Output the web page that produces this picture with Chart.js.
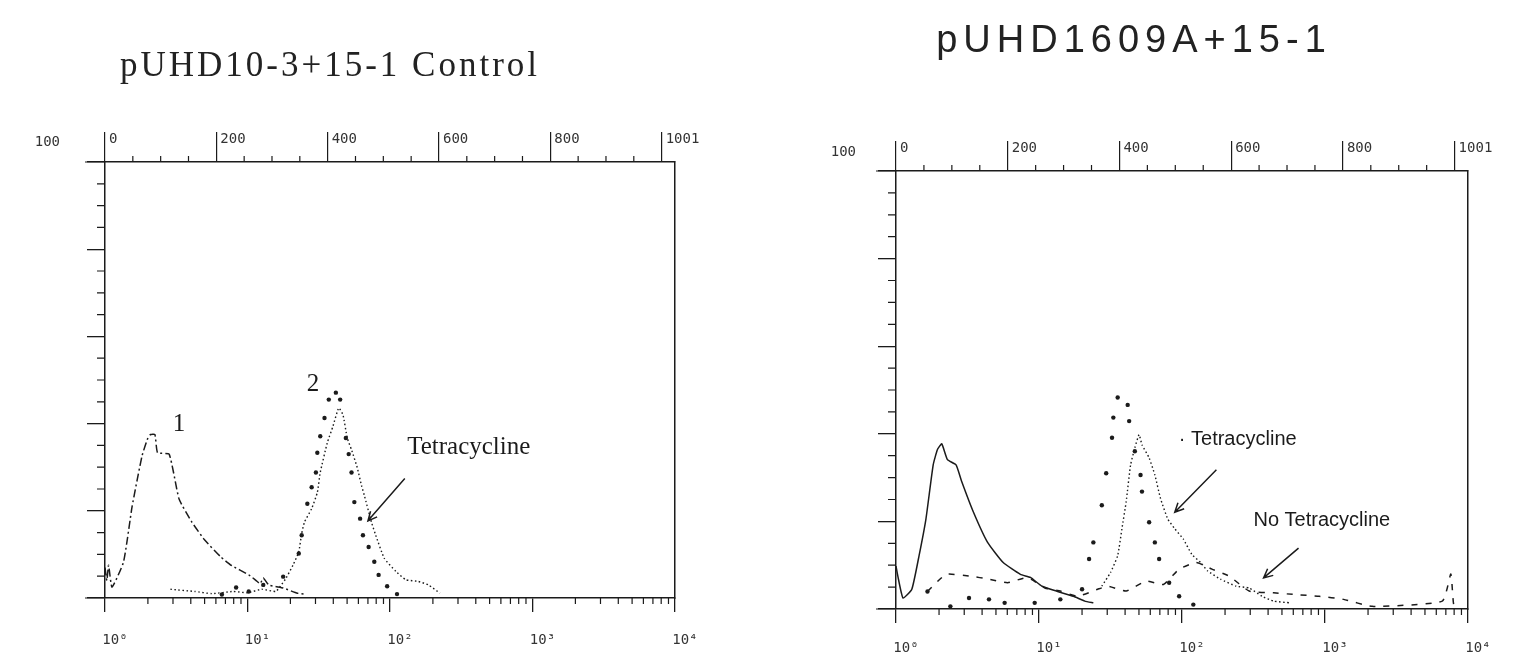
<!DOCTYPE html>
<html>
<head>
<meta charset="utf-8">
<script src="https://cdn.jsdelivr.net/npm/chart.js@4.4.1/dist/chart.umd.min.js"></script>
<style>
  html, body { margin: 0; padding: 0; background: #fff; }
  body { width: 1520px; height: 658px; position: relative; overflow: hidden; }
  canvas { position: absolute; top: 0; }
  #chartLeft { left: 0; }
  #chartRight { left: 760px; }
</style>
</head>
<body>
<canvas id="chartLeft" width="760" height="658"></canvas>
<canvas id="chartRight" width="760" height="658"></canvas>
<script>
const ink = '#1b1b1b';

// axis ticks and labels
const decadeValues = [1, 10, 100, 1000, 10000];
const decadeLabels = ['10⁰', '10¹', '10²', '10³', '10⁴'];
const channelValues = [0, 200, 400, 600, 800, 1000];
const channelLabels = ['0', '200', '400', '600', '800', '1001'];
const yTopLabel = '100';

// left panel: pUHD10-3+15-1 Control
const leftCurve1X = [1, 1.03, 1.06, 1.12, 1.35, 1.55, 1.82, 2.0, 2.09, 2.24, 2.34, 2.82, 3.31, 4.07, 5.01, 6.46, 7.59, 10.2, 11.5, 12.3, 12.9, 14.1, 17.8, 22.4, 25.1];
const leftCurve1Y = [7, 4, 7.5, 2.5, 8.3, 21, 32.6, 36.7, 37.5, 37.5, 33.3, 33, 22.7, 17.4, 13.3, 9.5, 7.6, 5.3, 4.0, 3.3, 4.6, 3.0, 2.3, 1.1, 0.9];
const leftCurve2X = [6.61, 8.32, 10.2, 12.9, 17.8, 22.9, 24.0, 26.3, 28.2, 30.2, 30.9, 32.4, 34.7, 37.2, 41.7, 44.7, 49.0, 51.3, 53.7, 56.2, 61.7, 64.6, 70.8, 77.6, 83.2, 95.5, 112];
const leftCurve2Y = [0.8, 2.4, 1.5, 3.0, 4.9, 10.2, 14.4, 21.6, 25.4, 28.8, 33.3, 37.1, 41.3, 45.5, 47.1, 45.5, 36.7, 33, 28.8, 22, 18.2, 14.4, 11.7, 8.3, 5.3, 2.7, 0.9];
const leftTetX = [2.88, 4.27, 5.62, 7.94, 10, 12.6, 15.8, 17.0, 18.6, 20.9, 22.9, 24.0, 25.1, 28.2, 30.9, 32.4, 36.3, 39.8, 43.7, 46.8, 50.1, 53.7, 58.9, 63.1, 66.1, 74.1, 79.4, 91.2, 110, 129, 158, 186, 224];
const leftTetY = [2, 1.5, 1, 1.5, 1.2, 2, 1.5, 2.7, 4.5, 7.6, 10.6, 14.8, 17.4, 20.5, 24.2, 28.8, 35.6, 39.4, 43.6, 42, 36.7, 34, 29.9, 25.8, 23.5, 17.4, 14.4, 9.1, 6.1, 4.2, 3.8, 3.0, 1.1];

// right panel: pUHD1609A+15-1
const rightCellsX = [1, 1.03, 1.12, 1.29, 1.45, 1.62, 1.82, 1.95, 2.09, 2.29, 2.63, 2.88, 3.47, 4.37, 5.62, 7.41, 8.71, 10.5, 13.2, 17.4, 20.9, 24.0];
const rightCellsY = [9.8, 7.5, 2.5, 4.5, 12.2, 20.6, 32.9, 36.4, 37.7, 34.1, 32.9, 29.1, 22.2, 15.2, 10.6, 7.9, 7.2, 5.2, 4.1, 2.9, 1.8, 1.4];
const rightDotsX = [1.66, 2.40, 3.24, 4.47, 5.75, 9.33, 14.1, 20.0, 22.4, 24.0, 27.5, 29.5, 32.4, 33.1, 35.5, 41.7, 42.7, 46.8, 51.3, 52.5, 58.9, 64.6, 69.2, 81.3, 95.5, 120];
const rightDotsY = [4, 0.6, 2.5, 2.2, 1.4, 1.4, 2.2, 4.5, 11.4, 15.2, 23.7, 31, 39.1, 43.7, 48.3, 46.6, 42.9, 36, 30.6, 26.8, 19.8, 15.2, 11.4, 6, 2.9, 1];
const rightTetX = [27.5, 31.6, 35.5, 38.0, 40.7, 43.7, 46.8, 50.1, 52.5, 58.9, 64.6, 70.8, 79.4, 89.1, 102, 117, 135, 151, 186, 240, 295, 363, 437, 575];
const rightTetY = [5.2, 8.3, 12.2, 18.3, 24.5, 32.9, 36.8, 39.8, 37.5, 34.5, 30.6, 25.2, 20.6, 18.3, 16, 12.5, 10.6, 8.7, 6.8, 5.2, 4.8, 2.9, 1.8, 1.4];
const rightNoTetX = [1.66, 2.24, 3.31, 4.47, 6.03, 8.32, 11.0, 14.1, 18.6, 25.7, 30.2, 40.7, 56.2, 74.1, 95.5, 126, 162, 214, 295, 437, 617, 912, 1349, 2138, 6607, 7586, 7943, 8511];
const rightNoTetY = [4, 7.9, 7.5, 6.8, 6, 7.2, 4.8, 4.1, 2.9, 4.5, 5.2, 4.1, 6.4, 5.6, 9.1, 10.6, 9.1, 7.5, 4.1, 3.7, 3.3, 2.9, 2.2, 0.6, 1.8, 8, 1, 2.2];

const pts = (xs, ys) => xs.map((x, i) => ({ x, y: ys[i] }));
const tickFont = { family: "'DejaVu Sans Mono', monospace", size: 14 };

const styles = {
  dashDot: { borderColor: ink, borderWidth: 1.5, borderDash: [8, 3, 2, 3], pointRadius: 0, tension: 0.15 },
  fineDots: { borderColor: ink, borderWidth: 1.4, borderDash: [1.5, 2.5], pointRadius: 0, tension: 0.15 },
  heavyDots: { showLine: false, pointRadius: 2.2, pointBackgroundColor: ink, pointBorderWidth: 0 },
  solid: { borderColor: ink, borderWidth: 1.5, pointRadius: 0, tension: 0.15 },
  dashed: { borderColor: ink, borderWidth: 1.5, borderDash: [6, 8], pointRadius: 0, tension: 0.15 }
};

// title, extra axis marks, labels and arrows
const extras = {
  id: 'extras',
  afterDraw(chart, args, opts) {
    const { ctx, chartArea: a, scales } = chart;
    const x = scales.x, y = scales.y, top = scales.top;
    ctx.save();
    ctx.strokeStyle = ink;
    ctx.lineWidth = 1.2;
    ctx.beginPath();
    for (let v = 5; v < 100; v += 5) {
      if (v % 20 === 0) continue;
      const py = y.getPixelForValue(v);
      ctx.moveTo(a.left - 8, py); ctx.lineTo(a.left, py);
    }
    for (let d = 1; d < 10000; d *= 10) {
      for (let k = 2; k < 10; k++) {
        const px = x.getPixelForValue(d * k);
        ctx.moveTo(px, a.bottom); ctx.lineTo(px, a.bottom + 6);
      }
    }
    for (let c = 50; c < 1024; c += 50) {
      if (c % 200 === 0) continue;
      const px = top.getPixelForValue(c);
      ctx.moveTo(px, a.top); ctx.lineTo(px, a.top - 6);
    }
    ctx.moveTo(a.left - 20, a.top); ctx.lineTo(a.left, a.top);
    ctx.moveTo(a.left - 20, a.bottom); ctx.lineTo(a.left, a.bottom);
    ctx.stroke();

    // title
    const t = opts.title;
    ctx.fillStyle = '#222';
    ctx.font = t.font;
    ctx.letterSpacing = t.spacing;
    ctx.textAlign = 'center';
    ctx.textBaseline = 'middle';
    ctx.fillText(t.text, t.x, t.y);
    ctx.letterSpacing = '0px';

    ctx.fillStyle = ink;
    (opts.notes || []).forEach(n => {
      ctx.font = n.font;
      ctx.textAlign = n.align;
      ctx.fillText(n.text, x.getPixelForValue(n.x), y.getPixelForValue(n.y));
    });
    ctx.lineWidth = 1.5;
    (opts.arrows || []).forEach(r => {
      const x1 = x.getPixelForValue(r.from[0]), y1 = y.getPixelForValue(r.from[1]);
      const x2 = x.getPixelForValue(r.to[0]), y2 = y.getPixelForValue(r.to[1]);
      const ang = Math.atan2(y2 - y1, x2 - x1);
      ctx.beginPath();
      ctx.moveTo(x1, y1); ctx.lineTo(x2, y2);
      ctx.moveTo(x2 - 10 * Math.cos(ang - 0.45), y2 - 10 * Math.sin(ang - 0.45));
      ctx.lineTo(x2, y2);
      ctx.lineTo(x2 - 10 * Math.cos(ang + 0.45), y2 - 10 * Math.sin(ang + 0.45));
      ctx.stroke();
    });
    ctx.restore();
  }
};

function makeScales(p) {
  const zeroPad = s => { s.paddingLeft = 0; s.paddingRight = 0; s.paddingTop = 0; s.paddingBottom = 0; };
  return {
    x: {
      type: 'logarithmic', position: 'bottom', min: 1, max: 10000,
      afterBuildTicks: s => { s.ticks = decadeValues.map(v => ({ value: v })); },
      ticks: { callback: (v, i) => decadeLabels[i], font: tickFont, color: '#333', padding: p.bottomPad, labelOffset: 10, maxRotation: 0, autoSkip: false },
      grid: { drawOnChartArea: false, tickLength: 14, color: ink, lineWidth: 1.3 },
      border: { color: ink, width: 1.5 },
      afterFit: s => { s.height = p.bottomH; zeroPad(s); }
    },
    top: {
      type: 'linear', position: 'top', min: 0, max: 1024,
      afterBuildTicks: s => { s.ticks = channelValues.map(v => ({ value: v })); },
      ticks: { callback: (v, i) => channelLabels[i], font: tickFont, color: '#333', align: 'start', padding: -16, labelOffset: 4, maxRotation: 0, autoSkip: false },
      grid: { drawOnChartArea: false, tickLength: 30, color: ink, lineWidth: 1.2 },
      border: { color: ink, width: 1.5 },
      afterFit: s => { s.height = p.topH; zeroPad(s); }
    },
    y: {
      type: 'linear', position: 'left', min: 0, max: 100,
      ticks: { stepSize: 20, callback: v => (v === 100 ? yTopLabel : ''), font: tickFont, color: '#333', padding: p.yPad, labelOffset: p.yLabelOffset, autoSkip: false },
      grid: { drawOnChartArea: false, tickLength: 18, color: ink, lineWidth: 1.3 },
      border: { color: ink, width: 1.5 },
      afterFit: s => { s.width = p.leftW; zeroPad(s); }
    },
    yr: {
      type: 'linear', position: 'right', min: 0, max: 100,
      ticks: { display: false },
      grid: { display: false, drawTicks: false },
      border: { color: ink, width: 1.5 },
      afterFit: s => { s.width = 0; zeroPad(s); }
    }
  };
}

function makeChart(id, cfg) {
  return new Chart(document.getElementById(id), {
    type: 'line',
    data: { datasets: cfg.datasets },
    options: {
      responsive: false,
      animation: false,
      layout: { padding: cfg.padding, autoPadding: false },
      scales: makeScales(cfg),
      plugins: {
        legend: { display: false },
        tooltip: { enabled: false },
        extras: { title: cfg.title, notes: cfg.notes, arrows: cfg.arrows }
      }
    },
    plugins: [extras]
  });
}

const serifNote = "25px 'Liberation Serif', 'DejaVu Serif', serif";
const sansNote = "20px 'Liberation Sans', sans-serif";

makeChart('chartLeft', {
  title: { text: 'pUHD10-3+15-1 Control', x: 330, y: 67, spacing: '3px', font: "35px 'Liberation Serif', 'DejaVu Serif', serif" },
  padding: { left: 0, right: 85, top: 0, bottom: 0 },
  leftW: 105, topH: 162, bottomH: 60, bottomPad: 20, yPad: 27, yLabelOffset: -20,
  datasets: [
    { label: '1', data: pts(leftCurve1X, leftCurve1Y), ...styles.dashDot },
    { label: '2', data: pts(leftCurve2X, leftCurve2Y), ...styles.heavyDots },
    { label: 'Tetracycline', data: pts(leftTetX, leftTetY), ...styles.fineDots }
  ],
  notes: [
    { text: '1', x: 3.31, y: 39.8, align: 'center', font: serifNote },
    { text: '2', x: 28.8, y: 48.9, align: 'center', font: serifNote },
    { text: 'Tetracycline', x: 132, y: 34.5, align: 'left', font: serifNote }
  ],
  arrows: [{ from: [127, 27.4], to: [70, 17.7] }]
});

makeChart('chartRight', {
  title: { text: 'pUHD1609A+15-1', x: 374, y: 42, spacing: '6px', font: "38px 'Liberation Sans', Arial, sans-serif" },
  padding: { left: 40, right: 52, top: 0, bottom: 0 },
  leftW: 96, topH: 171, bottomH: 49, bottomPad: 17, yPad: 22, yLabelOffset: -19,
  datasets: [
    { label: 'Cells', data: pts(rightCellsX, rightCellsY), ...styles.solid },
    { label: 'Dots', data: pts(rightDotsX, rightDotsY), ...styles.heavyDots },
    { label: 'Tetracycline', data: pts(rightTetX, rightTetY), ...styles.fineDots },
    { label: 'No Tetracycline', data: pts(rightNoTetX, rightNoTetY), ...styles.dashed }
  ],
  notes: [
    { text: '· Tetracycline', x: 95, y: 38.6, align: 'left', font: sansNote },
    { text: 'No Tetracycline', x: 316, y: 20.3, align: 'left', font: sansNote }
  ],
  arrows: [{ from: [174, 31.8], to: [89, 22.1] }, { from: [653, 13.9], to: [372, 7.1] }]
});
</script>
</body>
</html>
